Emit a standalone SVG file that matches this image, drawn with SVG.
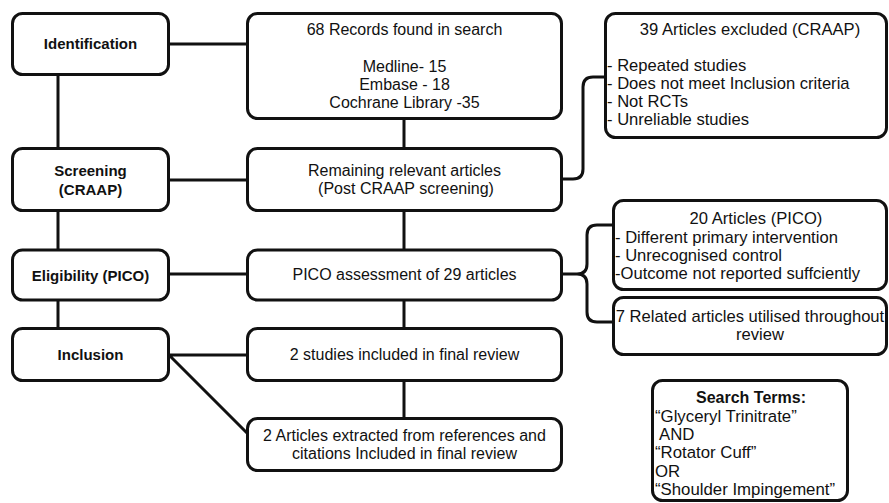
<svg xmlns="http://www.w3.org/2000/svg" width="889" height="503" viewBox="0 0 889 503">
<style>
.box{fill:#fff;stroke:#111;stroke-width:3}
.ln{fill:none;stroke:#111;stroke-width:3}
text{font-family:"Liberation Sans",Arial,sans-serif;font-size:16px;fill:#111}
.b{font-weight:bold;font-size:15px}
.c{text-anchor:middle}
.r{font-size:16.6px}
.s{font-size:16.8px}
</style>
<rect width="889" height="503" fill="#fff"/>
<g id="connectors">
<path class="ln" d="M169,44 H247 M169,180 H247 M169,274 H247 M169,355 H247 M169,355 L247,433"/>
<path class="ln" d="M58,75 V148 M58,211 V250 M58,300 V328"/>
<path class="ln" d="M404,118 V148 M404,211 V250 M404,300 V328 M404,381 V418"/>
<path class="ln" d="M562,179 H573 Q583,179 583,169 V87 Q583,77 593,77 H605"/>
<path class="ln" d="M562,274 H577 Q587,274 587,264 V235 Q587,225 597,225 H613 M577,274 Q587,274 587,284 V312 Q587,322 597,322 H613"/>
</g>
<g id="identification"><rect class="box" x="12.5" y="13.5" width="156" height="61" rx="10"/><text class="b c" x="90.5" y="49">Identification</text></g>
<g id="screening"><rect class="box" x="12.5" y="148.5" width="156" height="62" rx="10"/><text class="b c" x="90.5" y="176">Screening</text><text class="b c" x="90.5" y="195">(CRAAP)</text></g>
<g id="eligibility"><rect class="box" x="12.5" y="250" width="156" height="50" rx="10"/><text class="b c" x="90.5" y="281">Eligibility (PICO)</text></g>
<g id="inclusion"><rect class="box" x="12.5" y="328.5" width="156" height="52" rx="10"/><text class="b c" x="90.5" y="360">Inclusion</text></g>
<g id="records"><rect class="box" x="247.5" y="13.5" width="314" height="105" rx="10"/><text class="c" x="404.5" y="35">68 Records found in search</text><text class="c" x="404.5" y="72">Medline- 15</text><text class="c" x="404.5" y="90">Embase - 18</text><text class="c" x="404.5" y="108">Cochrane Library -35</text></g>
<g id="remaining"><rect class="box" x="247.5" y="148.5" width="314" height="62" rx="10"/><text class="c" x="404.5" y="176">Remaining relevant articles</text><text class="c" x="406" y="194">(Post CRAAP screening)</text></g>
<g id="pico"><rect class="box" x="247.5" y="250" width="314" height="50" rx="10"/><text class="c" x="404.5" y="280">PICO assessment of 29 articles</text></g>
<g id="studies"><rect class="box" x="247.5" y="328.5" width="314" height="52" rx="10"/><text class="c" x="404.5" y="360">2 studies included in final review</text></g>
<g id="extracted"><rect class="box" x="247.5" y="418.5" width="314" height="52" rx="10"/><text class="c" x="404.5" y="441">2 Articles extracted from references and</text><text class="c" x="404.5" y="459">citations Included in final review</text></g>
<g id="excluded"><rect class="box" x="605.5" y="13.5" width="281" height="124" rx="10"/><text class="c r" x="750" y="35">39 Articles excluded (CRAAP)</text><text class="r" x="607" y="71">- Repeated studies</text><text class="r" x="607" y="89">- Does not meet Inclusion criteria</text><text class="r" x="607" y="107">- Not RCTs</text><text class="r" x="607" y="125">- Unreliable studies</text></g>
<g id="pico-excluded"><rect class="box" x="613.5" y="200.5" width="273" height="89" rx="10"/><text class="c r" x="756" y="224">20 Articles (PICO)</text><text class="r" x="615" y="243">- Different primary intervention</text><text class="r" x="615" y="261">- Unrecognised control</text><text class="r" x="615" y="279">-Outcome not reported suffciently</text></g>
<g id="related"><rect class="box" x="613.5" y="297.5" width="273" height="57" rx="10"/><text class="c r" x="750" y="322">7 Related articles utilised throughout</text><text class="c r" x="760" y="340">review</text></g>
<g id="search-terms"><rect class="box" x="652.5" y="380.5" width="195" height="120" rx="10"/><text class="c" x="751" y="403" style="font-weight:bold">Search Terms:</text><text class="s" x="655" y="422">“Glyceryl Trinitrate”</text><text class="s" x="659" y="440">AND</text><text class="s" x="655" y="458">“Rotator Cuff”</text><text class="s" x="655" y="477">OR</text><text class="s" x="655" y="495">“Shoulder Impingement”</text></g>
</svg>
